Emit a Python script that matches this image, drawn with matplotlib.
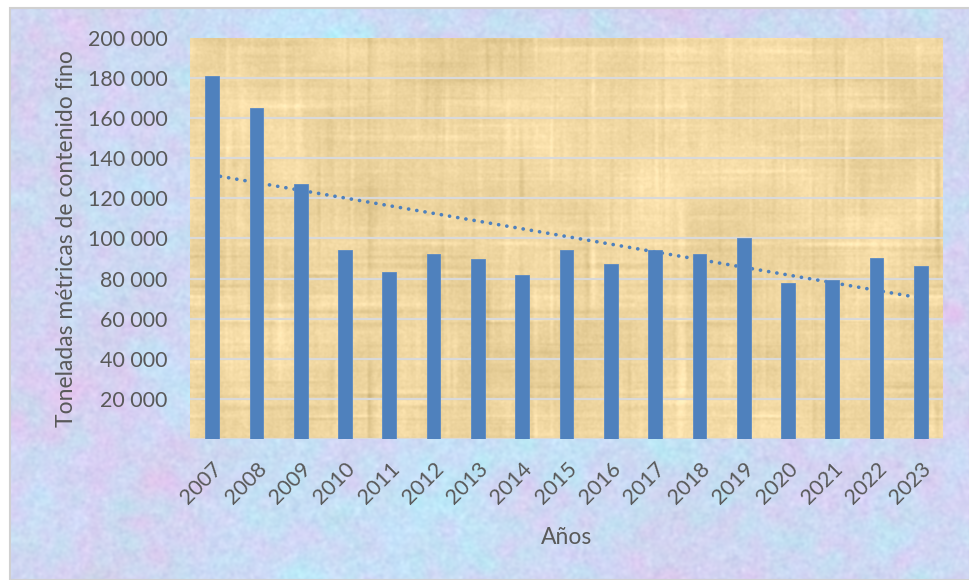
import numpy as np
import matplotlib
matplotlib.use("Agg")
import matplotlib.pyplot as plt
from matplotlib.patches import Rectangle
from matplotlib.ticker import FixedLocator, FuncFormatter

plt.rcParams['font.family'] = ['Lato', 'DejaVu Sans']

# --- data ---------------------------------------------------------------
years = ["2007", "2008", "2009", "2010", "2011", "2012", "2013", "2014", "2015",
         "2016", "2017", "2018", "2019", "2020", "2021", "2022", "2023"]
tonnes = [181000, 165000, 127300, 94400, 83100, 92100, 89900, 81800, 94500,
          87100, 94400, 92300, 100100, 78000, 79500, 90400, 86300]
y_ticks = [20000, 40000, 60000, 80000, 100000, 120000, 140000, 160000, 180000, 200000]

BAR_COLOR = "#4F81BD"
TEXT_COLOR = "#595959"
GRID_COLOR = "#D9D9D9"

W, H, DPI = 970, 580, 100


# --- textures -------------------------------------------------------------
def smooth_noise(rng, h, w, sy, sx):
    """Gaussian-filtered white noise (via FFT), normalised to unit std."""
    z = rng.standard_normal((h, w))
    fy = np.fft.fftfreq(h)[:, None]
    fx = np.fft.fftfreq(w)[None, :]
    g = np.exp(-2 * (np.pi ** 2) * ((fy * sy) ** 2 + (fx * sx) ** 2))
    out = np.real(np.fft.ifft2(np.fft.fft2(z) * g))
    return out / (out.std() + 1e-9)


rng = np.random.default_rng(7)

# pastel marble for the chart area
bh, bw = 572, 960
n1 = smooth_noise(rng, bh, bw, 40, 40)
n2 = smooth_noise(rng, bh, bw, 30, 30)
n3 = smooth_noise(rng, bh, bw, 7, 7)
n5 = smooth_noise(rng, bh, bw, 7, 7)
n4 = smooth_noise(rng, bh, bw, 1.5, 1.5)
bg = np.empty((bh, bw, 3))
bg[:] = np.array([206, 216, 243], float)
bg += n1[..., None] * np.array([-4, 4, 2])      # cyan drift
bg += n2[..., None] * np.array([3, -2, 0])      # pink drift
bg += n3[..., None] * np.array([-3, 3, 1])
bg += n5[..., None] * np.array([3, -2, 1])
bg += n4[..., None] * np.array([3, 3, 2])
bg = np.clip(bg, 0, 255) / 255.0

# papyrus for the plot area
ph, pw = 401, 753
cols = smooth_noise(rng, 1, pw, 1, 1.5)
rows = smooth_noise(rng, ph, 1, 1.5, 1)
vblk = smooth_noise(rng, ph, pw, 30, 3)
hblk = smooth_noise(rng, ph, pw, 3, 30)
patch = smooth_noise(rng, ph, pw, 20, 20)
grain = smooth_noise(rng, ph, pw, 1, 1)
pap = np.empty((ph, pw, 3))
pap[:] = np.array([239, 214, 160], float)
shade = (3.0 * cols * np.abs(vblk)
         + 3.0 * rows * np.abs(hblk)
         + 4.0 * patch + 2.0 * grain)
pap += shade[..., None] * np.array([1.0, 1.0, 1.1])
pap = np.clip(pap, 0, 255) / 255.0

# --- figure -------------------------------------------------------------
fig = plt.figure(figsize=(W / DPI, H / DPI), dpi=DPI, facecolor="white")

bg_ax = fig.add_axes([10 / W, 0, 960 / W, 572 / H], zorder=0)
bg_ax.imshow(bg, aspect="auto", interpolation="bilinear")
bg_ax.set_axis_off()
fig.patches.append(Rectangle((10 / W, 0), 960 / W, 572 / H, transform=fig.transFigure,
                             fill=False, edgecolor="#D0D0D0", linewidth=1.5, zorder=1))

ax = fig.add_axes([190 / W, 1 - 439 / H, 753 / W, 401 / H], zorder=2)
ax.set_facecolor("none")
x = np.arange(len(years))
ax.set_xlim(-0.5, len(years) - 0.5)
ax.set_ylim(0, 200000)
ax.imshow(pap, extent=(-0.5, len(years) - 0.5, 0, 200000), aspect="auto",
          interpolation="bilinear", zorder=0)

for yv in y_ticks[:-1]:
    ax.axhline(yv, color=GRID_COLOR, linewidth=1.6, zorder=1)
ax.axhline(0, color=GRID_COLOR, linewidth=1.6, zorder=1)

# linear trend line (least squares over the series)
slope, intercept = np.polyfit(x, tonnes, 1)
ax.plot(x, slope * x + intercept, color=BAR_COLOR, linewidth=2.6,
        linestyle=(0, (0.05, 2.25)), dash_capstyle="round", zorder=2)

ax.bar(x, tonnes, width=0.31, color=BAR_COLOR, edgecolor="#5B8AC4",
       linewidth=0.6, zorder=3)

for s in ax.spines.values():
    s.set_visible(False)

ax.yaxis.set_major_locator(FixedLocator(y_ticks))
ax.yaxis.set_major_formatter(FuncFormatter(lambda v, p: f"{int(v):,}".replace(",", " ")))
ax.set_xticks(x)
ax.set_xticklabels(years, rotation=45, ha="right", rotation_mode="anchor")
ax.tick_params(axis="y", length=0, pad=16, labelsize=15.5, labelcolor=TEXT_COLOR)
ax.tick_params(axis="x", length=0, pad=14, labelsize=15.5, labelcolor=TEXT_COLOR)

ax.set_ylabel("Toneladas métricas de contenido fino", fontsize=16.5, color=TEXT_COLOR,
              labelpad=8)
ax.set_xlabel("Años", fontsize=16.5, color=TEXT_COLOR, labelpad=14)

fig.savefig("out.png", dpi=DPI)
